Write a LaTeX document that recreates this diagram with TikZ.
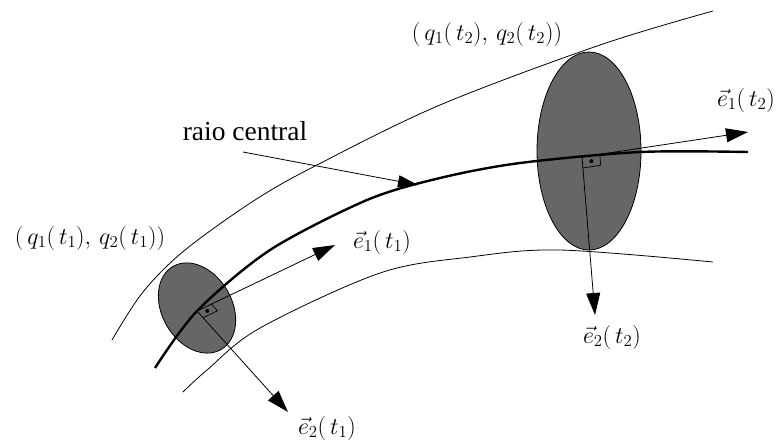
\RequirePackage{fix-cm}
\documentclass[tikz,border=0pt]{standalone}
\usepackage{fontspec}
\newfontfamily\libser{Liberation Serif}
\usetikzlibrary{arrows.meta,calc}
\definecolor{ellgray}{RGB}{102,102,102}
\begin{document}
\begin{tikzpicture}[x=1pt,y=-1pt,
  thinline/.style={line width=0.8pt},
  vecarrow/.style={line width=0.8pt,-{Triangle[length=22pt,width=14pt]}},
  rayline/.style={line width=2.4pt},
  sectionfill/.style={draw=black,line width=0.8pt,fill=ellgray},
  lbl/.style={inner sep=0pt,font=\fontsize{24}{28}\selectfont},
  marker/.style={line width=0.7pt}]
\useasboundingbox (0,0) rectangle (778,442);
% cross sections
\draw[sectionfill] (197,308) ellipse [x radius=35, y radius=48, rotate=30];
\draw[sectionfill] (589,151) ellipse [x radius=52, y radius=99];
% boundary curves
\draw[thinline] plot[smooth,tension=0.55] coordinates {(112,340) (143,292) (185,250) (255,200) (317,165) (440,105) (600,45) (713,11)};
\draw[thinline] plot[smooth,tension=0.55] coordinates {(183,392) (207,370) (260,328) (380,273) (470,257) (560,250) (713,262)};
% central ray
\draw[rayline] plot[smooth,tension=0.5] coordinates {(155,368) (197,311) (270,250) (367,200) (440,178) (520,163) (640,152) (748,152)};
% base points and vector tips
\coordinate (B1) at (197,311);
\coordinate (E1a) at (335,245);
\coordinate (E2a) at (288,412);
\coordinate (B2) at (582,157);
\coordinate (E1b) at (748,132);
\coordinate (E2b) at (595,315);
\draw[vecarrow] (B1) -- (E1a);
\draw[vecarrow] (B1) -- (E2a);
\draw[vecarrow] (B2) -- (E1b);
\draw[vecarrow] (B2) -- (E2b);
% right-angle marks
\coordinate (u1) at ($(B1)!16pt!(E1a)$);
\coordinate (u2) at ($(B1)!9pt!(E2a)$);
\coordinate (c1) at ($(u1)+(u2)-(B1)$);
\draw[marker] (u1) -- (c1) -- (u2);
\fill ($(B1)!0.5!(c1)$) circle (2pt);
\coordinate (v1) at ($(B2)!18pt!(E1b)$);
\coordinate (v2) at ($(B2)!11pt!(E2b)$);
\coordinate (c2) at ($(v1)+(v2)-(B2)$);
\draw[marker] (v1) -- (c2) -- (v2);
\fill ($(B2)!0.5!(c2)$) circle (2pt);
% labels
\node[inner sep=0pt,font=\libser\fontsize{27.5}{31}\selectfont] (rc) at (245,131) {raio central};
\coordinate (rcs) at (243,152);
\coordinate (rce) at (418,185);
\draw[thinline,-{Triangle[length=20pt,width=12pt]}] (rcs) -- (rce);
\node[lbl] (q1) at (90,238) {$(\,q_1(\,t_1),\,q_2(\,t_1))$};
\node[lbl] (q2) at (487,34) {$(\,q_1(\,t_2),\,q_2(\,t_2))$};
\node[lbl] (l1a) at (382,242) {$\vec{e}_1(\,t_1)$};
\node[lbl] (l2a) at (327,428) {$\vec{e}_2(\,t_1)$};
\node[lbl] (l1b) at (746,100) {$\vec{e}_1(\,t_2)$};
\node[lbl] (l2b) at (612,337) {$\vec{e}_2(\,t_2)$};
\end{tikzpicture}
\end{document}
